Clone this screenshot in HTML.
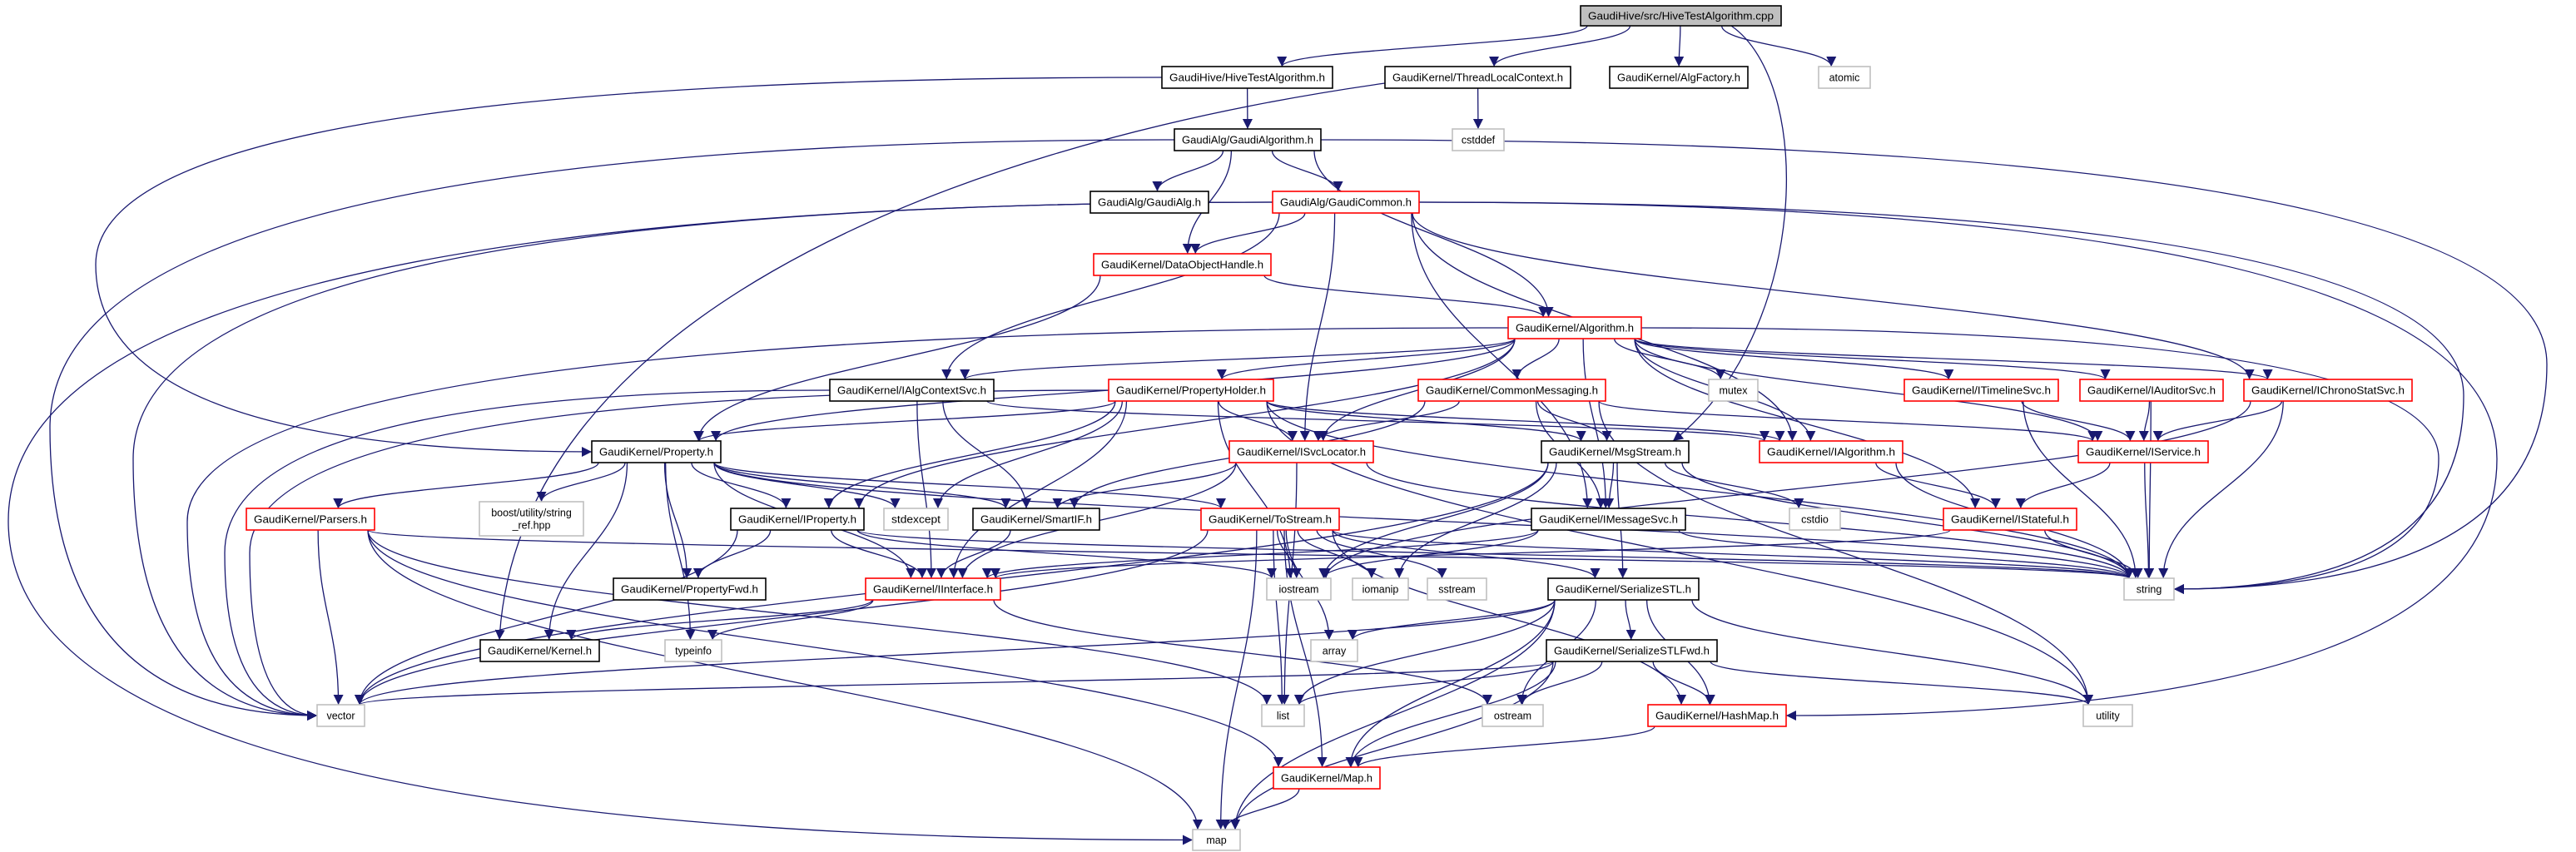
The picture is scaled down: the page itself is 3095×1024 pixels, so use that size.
<!DOCTYPE html>
<html><head><meta charset="utf-8"><style>
html,body{margin:0;padding:0;background:#fff;}
svg{display:block;}
text{font-family:"Liberation Sans",Arial,sans-serif;font-size:12.5px;fill:#000;}
</style></head><body>
<svg id="g" xmlns="http://www.w3.org/2000/svg" width="3095" height="1024" viewBox="0 0 3095 1024">
<defs><marker id="ah" markerUnits="userSpaceOnUse" markerWidth="14" markerHeight="12" refX="12" refY="6" orient="auto"><path d="M0,0 L12,6 L0,12 z" fill="#191970"/></marker></defs>
<g id="edges"></g><g id="nodes"></g>
</svg>
<script>
var N={
root:[1899,2140,7,31,'GaudiHive/src/HiveTestAlgorithm.cpp','r'],
hta:[1396,1601,80,106,'GaudiHive/HiveTestAlgorithm.h','b'],
tlc:[1664,1887,80,106,'GaudiKernel/ThreadLocalContext.h','b'],
af:[1934,2100,80,106,'GaudiKernel/AlgFactory.h','b'],
atomic:[2185,2247,80,106,'atomic','g'],
ga:[1411,1587,155,181,'GaudiAlg/GaudiAlgorithm.h','b'],
cstddef:[1745,1807,155,181,'cstddef','g'],
gal:[1310,1452,230,256,'GaudiAlg/GaudiAlg.h','b'],
gc:[1529,1705,230,256,'GaudiAlg/GaudiCommon.h','x'],
doh:[1314,1527,305,331,'GaudiKernel/DataObjectHandle.h','x'],
alg:[1812,1972,381,407,'GaudiKernel/Algorithm.h','x'],
iacs:[997,1194,456,482,'GaudiKernel/IAlgContextSvc.h','b'],
ph:[1332,1530,456,482,'GaudiKernel/PropertyHolder.h','x'],
cm:[1704,1929,456,482,'GaudiKernel/CommonMessaging.h','x'],
mutex:[2053,2112,456,482,'mutex','g'],
its:[2288,2473,456,482,'GaudiKernel/ITimelineSvc.h','x'],
ias:[2499,2671,456,482,'GaudiKernel/IAuditorSvc.h','x'],
ics:[2696,2898,456,482,'GaudiKernel/IChronoStatSvc.h','x'],
prop:[711,866,530,556,'GaudiKernel/Property.h','b'],
isl:[1477,1650,530,556,'GaudiKernel/ISvcLocator.h','x'],
ms:[1852,2029,530,556,'GaudiKernel/MsgStream.h','b'],
ia:[2114,2286,530,556,'GaudiKernel/IAlgorithm.h','x'],
isv:[2497,2653,530,556,'GaudiKernel/IService.h','x'],
pars:[296,450,611,637,'GaudiKernel/Parsers.h','x'],
boost:[576,701,603,644,'boost/utility/string|_ref.hpp','g'],
ip:[878,1038,611,637,'GaudiKernel/IProperty.h','b'],
stdexcept:[1062,1139,611,637,'stdexcept','g'],
sif:[1169,1321,611,637,'GaudiKernel/SmartIF.h','b'],
ts:[1443,1609,611,637,'GaudiKernel/ToStream.h','x'],
ims:[1840,2025,611,637,'GaudiKernel/IMessageSvc.h','b'],
cstdio:[2150,2211,611,637,'cstdio','g'],
ist:[2335,2495,611,637,'GaudiKernel/IStateful.h','x'],
pfwd:[737,920,695,721,'GaudiKernel/PropertyFwd.h','b'],
ii:[1040,1202,695,721,'GaudiKernel/IInterface.h','x'],
iostream:[1522,1599,695,721,'iostream','g'],
iomanip:[1625,1692,695,721,'iomanip','g'],
sstream:[1715,1786,695,721,'sstream','g'],
sstl:[1860,2041,695,721,'GaudiKernel/SerializeSTL.h','b'],
string:[2552,2612,695,721,'string','g'],
kern:[577,720,769,795,'GaudiKernel/Kernel.h','b'],
typeinfo:[799,867,769,795,'typeinfo','g'],
array:[1575,1631,769,795,'array','g'],
sfwd:[1858,2063,769,795,'GaudiKernel/SerializeSTLFwd.h','b'],
vector:[381,438,847,873,'vector','g'],
list:[1516,1567,847,873,'list','g'],
ostream:[1781,1854,847,873,'ostream','g'],
hm:[1980,2146,847,873,'GaudiKernel/HashMap.h','x'],
utility:[2503,2562,847,873,'utility','g'],
mapH:[1530,1658,922,948,'GaudiKernel/Map.h','x'],
map:[1433,1490,997,1022,'map','g']
};
var C=[
'M2080,31 C2180,100 2175,400 2010,530',
'M1664,100 C1100,180 620,400 600,769'
];
var E=[
['root','hta'],['root','tlc'],['root','af'],['root','atomic'],
['hta','ga'],['hta','prop',115],['tlc','cstddef'],
['ga','gal'],['ga','gc'],['ga','doh'],['ga','alg'],['ga','vector',60],['ga','string',3060],
['gc','doh'],['gc','iacs'],['gc','ia'],['gc','ics'],['gc','ims'],['gc','map',10],['gc','vector',160],['gc','string',2960],['gc','hm',3000],['gc','isl'],
['doh','alg'],['doh','prop'],
['alg','prop'],['alg','ip'],['alg','iacs'],['alg','ph'],['alg','cm'],['alg','mutex'],['alg','its'],['alg','ias'],['alg','ics'],['alg','isv'],['alg','isl'],['alg','ims'],['alg','ia'],['alg','ist'],['alg','string',2930],['alg','vector',225],
['ph','prop'],['ph','ip'],['ph','isl'],['ph','ms'],['ph','ii'],['ph','stdexcept'],['ph','vector',300],['ph','string'],['ph','iostream'],['ph','utility'],['ph','ia'],
['iacs','sif'],['iacs','ii'],['iacs','vector',270],['iacs','ia'],
['cm','isl'],['cm','ms'],['cm','ims'],['cm','sif'],['cm','isv'],['cm','utility'],
['its','isv'],['its','string'],['ias','isv'],['ias','string'],['ics','isv'],['ics','string'],['ics','iostream'],
['prop','pars'],['prop','boost'],['prop','ip'],['prop','stdexcept'],['prop','sif'],['prop','ts'],['prop','pfwd'],['prop','kern'],['prop','typeinfo'],['prop','string'],['prop','ii'],
['isl','sif'],['isl','ii'],['isl','string'],['isl','list'],
['ms','ims'],['ms','sstl'],['ms','cstdio'],['ms','string'],['ms','iomanip'],['ms','iostream'],['ms','vector'],
['ia','ist'],['ia','string'],['isv','ist'],['isv','string'],
['pars','vector'],['pars','list'],['pars','map'],['pars','mapH'],['pars','string'],
['ip','pfwd'],['ip','ii'],['ip','vector'],['ip','string'],['ip','iostream'],
['sif','ii'],
['ts','iostream'],['ts','iomanip'],['ts','sstream'],['ts','string'],['ts','sstl'],['ts','array'],['ts','list'],['ts','vector'],['ts','map'],['ts','mapH'],['ts','hm'],
['ims','ii'],['ims','iostream'],['ims','string'],['ist','ii'],['ist','string'],
['ii','kern'],['ii','typeinfo'],['ii','ostream'],
['sstl','sfwd'],['sstl','array'],['sstl','list'],['sstl','vector'],['sstl','ostream'],['sstl','hm'],['sstl','mapH'],['sstl','map'],['sstl','utility'],
['sfwd','vector'],['sfwd','list'],['sfwd','ostream'],['sfwd','hm'],['sfwd','mapH'],['sfwd','map'],['sfwd','utility'],
['hm','mapH'],['mapH','map']
];
var ns='http://www.w3.org/2000/svg';
var ge=document.getElementById('edges'),gn=document.getElementById('nodes');
function cl(v,a,b){return Math.max(a,Math.min(b,v));}
function addPath(d){
 var p=document.createElementNS(ns,'path');
 p.setAttribute('d',d);p.setAttribute('fill','none');p.setAttribute('stroke','#191970');p.setAttribute('stroke-width','1.3');p.setAttribute('marker-end','url(#ah)');
 ge.appendChild(p);
}
C.forEach(addPath);
E.forEach(function(e){
 var s=N[e[0]],t=N[e[1]],d;
 var scx=(s[0]+s[1])/2,tcx=(t[0]+t[1])/2;
 if(e.length>2){
  var v=e[2],left=v<tcx;
  var sx=left?s[0]:s[1],sy=(s[2]+s[3])/2;
  var tx=left?t[0]:t[1],ty=(t[2]+t[3])/2;
  d='M'+sx+','+sy+' Q'+v+','+sy+' '+v+','+((sy+ty)/2)+' Q'+v+','+ty+' '+tx+','+ty;
 } else {
  var sx=cl(scx+(tcx-scx)*0.25,s[0]+8,s[1]-8),sy=s[3];
  var tx=cl(tcx+(scx-tcx)*0.08,t[0]+6,t[1]-6),ty=t[2];
  var dy=Math.max(ty-sy,30);
  d='M'+sx+','+sy+' C'+sx+','+(sy+dy*0.45)+' '+tx+','+(ty-dy*0.45)+' '+tx+','+ty;
 }
 addPath(d);
});
for(var k in N){var n=N[k];
 var r=document.createElementNS(ns,'rect');
 r.setAttribute('x',n[0]);r.setAttribute('y',n[2]);r.setAttribute('width',n[1]-n[0]);r.setAttribute('height',n[3]-n[2]);
 r.setAttribute('fill',n[5]=='r'?'#bfbfbf':'#fff');
 r.setAttribute('stroke',n[5]=='x'?'#ff0000':(n[5]=='g'?'#bfbfbf':'#000'));
 r.setAttribute('stroke-width','1.6');gn.appendChild(r);
 var lines=n[4].split('|');
 lines.forEach(function(L,i){
  var t=document.createElementNS(ns,'text');
  t.setAttribute('x',(n[0]+n[1])/2);t.setAttribute('text-anchor','middle');
  var cy=(n[2]+n[3])/2+(i-(lines.length-1)/2)*15;
  t.setAttribute('y',cy+4.5);
  if(lines.length==1&&L.length>8){t.setAttribute('textLength',(n[1]-n[0])-18);t.setAttribute('lengthAdjust','spacingAndGlyphs');}
  t.textContent=L;gn.appendChild(t);
 });
}
</script>
</body></html>
